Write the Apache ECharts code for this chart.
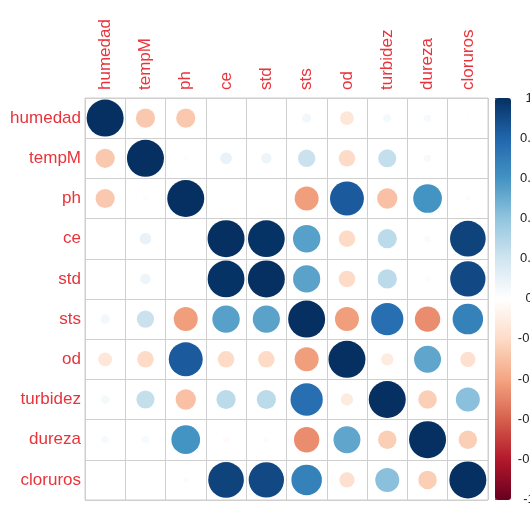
<!DOCTYPE html>
<html><head><meta charset="utf-8">
<script src="https://cdn.jsdelivr.net/npm/echarts@6/dist/echarts.min.js"></script>
<style>html,body{margin:0;padding:0;background:#fff}#c{width:530px;height:506px}</style>
</head><body><div id="c"></div>
<script>
const variables = ['humedad','tempM','ph','ce','std','sts','od','turbidez','dureza','cloruros'];
const humedad  = [1.00,-0.27,-0.27, 0.01, 0.01, 0.06,-0.14, 0.05, 0.04, 0.01];
const tempM    = [-0.27,1.00, 0.02, 0.10, 0.08, 0.22,-0.20, 0.24, 0.04, 0.01];
const ph       = [-0.27,0.02, 1.00, 0.00, 0.00,-0.42, 0.84,-0.30, 0.60,-0.02];
const ce       = [0.01, 0.10, 0.00, 1.00, 0.99, 0.55,-0.20, 0.27,-0.03, 0.93];
const std      = [0.01, 0.08, 0.00, 0.99, 1.00, 0.54,-0.20, 0.27, 0.02, 0.91];
const sts      = [0.06, 0.22,-0.42, 0.55, 0.54, 1.00,-0.42, 0.76,-0.47, 0.68];
const od       = [-0.14,-0.20,0.84,-0.20,-0.20,-0.42, 1.00,-0.11, 0.53,-0.17];
const turbidez = [0.05, 0.24,-0.30, 0.27, 0.27, 0.76,-0.11, 1.00,-0.25, 0.42];
const dureza   = [0.04, 0.04, 0.60,-0.03, 0.02,-0.47, 0.53,-0.25, 1.00,-0.25];
const cloruros = [0.01, 0.01,-0.02, 0.93, 0.91, 0.68,-0.17, 0.42,-0.25, 1.00];
const matrix = [humedad,tempM,ph,ce,std,sts,od,turbidez,dureza,cloruros];
const colorbarTicks = [-1,-0.8,-0.6,-0.4,-0.2,0,0.2,0.4,0.6,0.8,1];

const data = [];
matrix.forEach((row, i) => row.forEach((v, j) => data.push([j, i, v])));

const palette = ['#67001F','#B2182B','#D6604D','#F4A582','#FDDBC7','#FFFFFF','#D1E5F0','#92C5DE','#4393C3','#2166AC','#053061'];
const labelRed = '#E8333A';
const chart = echarts.init(document.getElementById('c'), null, {renderer:'canvas'});
chart.setOption({
  animation:false,
  backgroundColor:'#fff',
  grid:[
    {left:85, top:98, width:403, height:402, show:true, borderColor:'#cfcfcf', borderWidth:1},
    {left:495, top:98, width:16, height:402, show:false}
  ],
  xAxis:[
    {type:'category', data:variables, position:'top', gridIndex:0,
     axisLine:{show:false}, axisTick:{show:false},
     axisLabel:{rotate:-90, color:labelRed, fontSize:17, fontFamily:'Liberation Sans, Arial', margin:8},
     splitLine:{show:true, interval:0, lineStyle:{color:'#cfcfcf', width:1}}},
    {type:'value', gridIndex:1, show:false, min:0, max:1}
  ],
  yAxis:[
    {type:'category', data:variables, inverse:true, gridIndex:0,
     axisLine:{show:false}, axisTick:{show:false},
     axisLabel:{color:labelRed, fontSize:17, fontFamily:'Liberation Sans, Arial', margin:4},
     splitLine:{show:true, interval:0, lineStyle:{color:'#cfcfcf', width:1}}},
    {type:'value', gridIndex:1, position:'right', min:colorbarTicks[0], max:colorbarTicks[colorbarTicks.length-1], interval:0.2,
     axisLine:{show:false}, axisTick:{show:true, length:3, lineStyle:{color:'#555'}},
     splitLine:{show:false},
     axisLabel:{color:'#222', fontSize:13, fontFamily:'Liberation Sans, Arial', margin:30, align:'center'}}
  ],
  visualMap:{
    type:'continuous', min:-1, max:1, seriesIndex:0, calculable:false,
    orient:'vertical', left:495, top:98, itemWidth:16, itemHeight:402,
    padding:0, text:null, showLabel:false, hoverLink:false,
    inRange:{color:palette}
  },
  series:[{
    type:'scatter', xAxisIndex:0, yAxisIndex:0, data:data,
    symbol:'circle',
    symbolSize: v => 37*Math.sqrt(Math.abs(v[2])),
    itemStyle:{opacity:1}
  }]
});
</script></body></html>
